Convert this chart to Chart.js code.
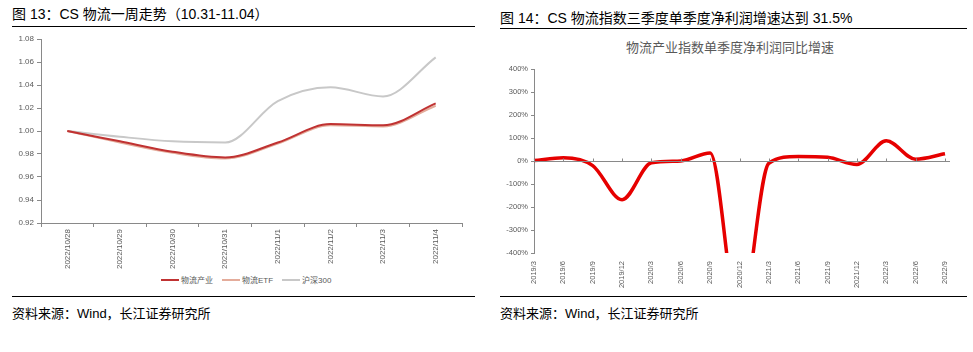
<!DOCTYPE html>
<html>
<head>
<meta charset="utf-8">
<script src="https://cdn.jsdelivr.net/npm/chart.js@4.4.1/dist/chart.umd.min.js"></script>
<style>
  body { margin: 0; width: 973px; height: 352px; background: #fff; position: relative; overflow: hidden;
         font-family: "Liberation Sans", Arial, "Noto Sans CJK SC", sans-serif; }
  .ttl { position: absolute; font-size: 14px; line-height: 16px; color: #000; white-space: nowrap; }
  .sub { position: absolute; font-size: 13px; line-height: 15px; color: #595959; white-space: nowrap; }
  .src { position: absolute; font-size: 13px; line-height: 15px; color: #000; white-space: nowrap; }
  .rule { position: absolute; height: 0; border-top: 1.5px solid #000; }
  .box { position: absolute; }
  .legend { position: absolute; display: flex; align-items: center; font-size: 8px; color: #595959; white-space: nowrap; }
  .legend i { display: inline-block; width: 18px; height: 2px; margin: 0 2px 0 0; }
  .legend span { margin-right: 9px; }
</style>
</head>
<body>
  <div class="ttl" style="left:12px; top:6px;">图 13：CS 物流一周走势（10.31-11.04）</div>
  <div class="rule" style="left:12px; top:26px; width:463px;"></div>

  <div class="ttl" style="left:500px; top:10px;">图 14：CS 物流指数三季度单季度净利润增速达到 31.5%</div>
  <div class="rule" style="left:500px; top:28px; width:467px;"></div>
  <div class="sub" style="left:626px; top:40px;">物流产业指数单季度净利润同比增速</div>

  <div class="box" style="left:0; top:0; width:480px; height:270px;"><canvas id="weekChart" width="480" height="270"></canvas></div>
  <div class="box" style="left:490px; top:0; width:483px; height:294px;"><canvas id="profitChart" width="483" height="294"></canvas></div>

  <div class="legend" id="weekLegend" style="left:161px; top:274px;"></div>

  <div class="rule" style="left:12px; top:296px; width:463px;"></div>
  <div class="rule" style="left:500px; top:296px; width:467px;"></div>
  <div class="src" style="left:12px; top:306px;">资料来源：Wind，长江证券研究所</div>
  <div class="src" style="left:500px; top:306px;">资料来源：Wind，长江证券研究所</div>

<script>
// --- left chart: one week, normalised to 10/28
const weekDates = ['2022/10/28', '2022/10/29', '2022/10/30', '2022/10/31', '2022/11/1', '2022/11/2', '2022/11/3', '2022/11/4'];
const logisticsIndustry = [1.000, 0.991, 0.982, 0.977, 0.990, 1.006, 1.005, 1.024];
const logisticsEtf      = [1.000, 0.990, 0.981, 0.976, 0.989, 1.005, 1.004, 1.022];
const csi300            = [1.000, 0.995, 0.991, 0.990, 1.026, 1.038, 1.030, 1.064];
const weekNames = ['物流产业', '物流ETF', '沪深300'];

// --- right chart: quarterly net profit yoy (%)
const quarters = ['2019/3', '2019/6', '2019/9', '2019/12', '2020/3', '2020/6', '2020/9', '2020/12',
                  '2021/3', '2021/6', '2021/9', '2021/12', '2022/3', '2022/6', '2022/9'];
const profitYoy = [2, 14, -20, -168, -8, 0, 35, -700, -10, 20, 16, -15, 88, 8, 31.5];

const axisGray = '#898989';
const labelGray = '#595959';
const weekColors = ['rgb(192,50,50)', 'rgb(228,172,155)', 'rgb(200,200,200)'];

function makeLine(label, data, color) {
  return { label, data, borderColor: color, backgroundColor: color, borderWidth: 2,
           pointRadius: 0, cubicInterpolationMode: 'monotone', fill: false };
}

new Chart(document.getElementById('weekChart'), {
  type: 'line',
  data: {
    labels: weekDates,
    datasets: [
      makeLine(weekNames[0], logisticsIndustry, weekColors[0]),
      makeLine(weekNames[1], logisticsEtf, weekColors[1]),
      makeLine(weekNames[2], csi300, weekColors[2])
    ]
  },
  options: {
    responsive: false,
    animation: false,
    layout: { padding: { top: 39, right: 18, left: 0, bottom: 0 } },
    plugins: { legend: { display: false }, tooltip: { enabled: false } },
    scales: {
      x: {
        offset: true,
        grid: { offset: true, drawOnChartArea: false, tickLength: 4, color: axisGray },
        border: { color: axisGray },
        ticks: { minRotation: 90, maxRotation: 90, padding: 2, color: labelGray,
                 font: { size: 8, family: '"Liberation Sans", Arial' } },
        afterFit: s => { s.height = 47; }
      },
      y: {
        min: 0.92, max: 1.08,
        grid: { drawOnChartArea: false, tickLength: 4, color: axisGray },
        border: { color: axisGray },
        ticks: { stepSize: 0.02, padding: 3, color: labelGray, callback: v => v.toFixed(2),
                 font: { size: 8, family: '"Liberation Sans", Arial' } },
        afterFit: s => { s.width = 41; }
      }
    }
  }
});

// legend as plain html
const legendBox = document.getElementById('weekLegend');
weekNames.forEach((name, i) => {
  const mark = document.createElement('i');
  mark.style.background = weekColors[i];
  const txt = document.createElement('span');
  txt.textContent = name;
  legendBox.appendChild(mark);
  legendBox.appendChild(txt);
});

// zero axis with tick marks for the profit chart
const zeroAxis = {
  id: 'zeroAxis',
  afterDatasetsDraw(chart) {
    const { ctx, chartArea, scales: { x, y } } = chart;
    const y0 = Math.round(y.getPixelForValue(0)) + 0.5;
    ctx.save();
    ctx.strokeStyle = axisGray;
    ctx.lineWidth = 1;
    ctx.beginPath();
    ctx.moveTo(chartArea.left, y0);
    ctx.lineTo(chartArea.right + 5, y0);
    for (let i = 0; i < x.ticks.length; i++) {
      const px = Math.round(x.getPixelForTick(i)) + 0.5;
      ctx.moveTo(px, y0 - 3);
      ctx.lineTo(px, y0);
    }
    ctx.stroke();
    ctx.restore();
  }
};

new Chart(document.getElementById('profitChart'), {
  type: 'line',
  data: {
    labels: quarters,
    datasets: [{
      label: '净利润同比',
      data: profitYoy,
      borderColor: '#E60000',
      borderWidth: 3.5,
      pointRadius: 0,
      cubicInterpolationMode: 'monotone',
      fill: false
    }]
  },
  options: {
    responsive: false,
    animation: false,
    layout: { padding: { top: 69, right: 28, left: 0, bottom: 0 } },
    plugins: { legend: { display: false }, tooltip: { enabled: false } },
    scales: {
      x: {
        grid: { display: false },
        border: { display: false },
        ticks: { minRotation: 90, maxRotation: 90, padding: 0, color: labelGray,
                 font: { size: 7.5, family: '"Liberation Sans", Arial' } },
        afterFit: s => { s.height = 41; }
      },
      y: {
        min: -400, max: 400,
        grid: { drawOnChartArea: false, tickLength: 3, color: axisGray },
        border: { color: axisGray },
        ticks: { stepSize: 100, padding: 3, color: labelGray, callback: v => v + '%',
                 font: { size: 7.5, family: '"Liberation Sans", Arial' } },
        afterFit: s => { s.width = 44; }
      }
    }
  },
  plugins: [zeroAxis]
});
</script>
</body>
</html>
